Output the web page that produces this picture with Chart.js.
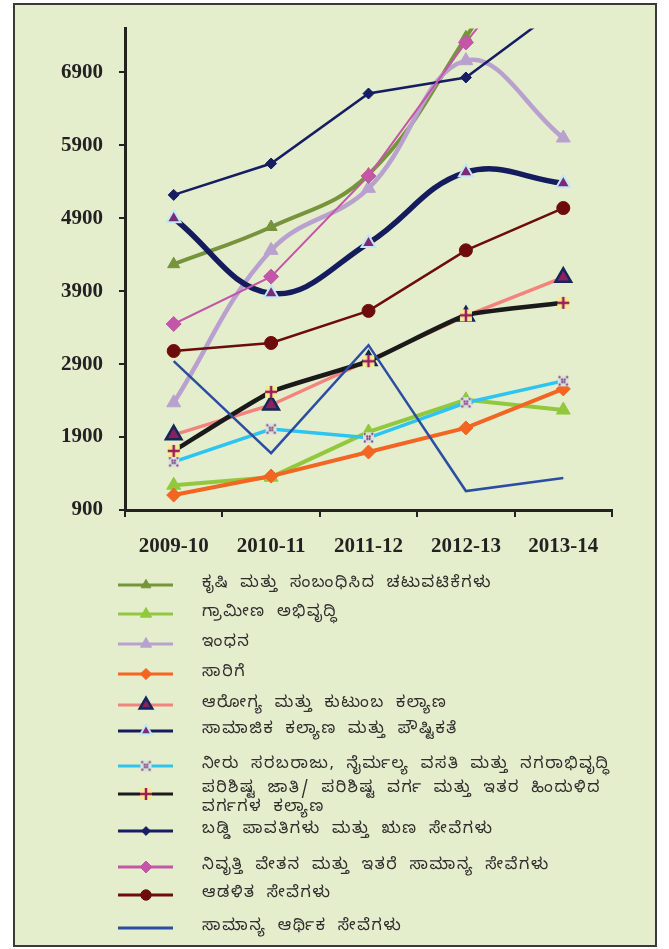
<!DOCTYPE html>
<html lang="kn">
<head>
<meta charset="utf-8">
<title>ವೆಚ್ಚದ ಪ್ರವೃತ್ತಿ</title>
<script src="https://cdn.jsdelivr.net/npm/chart.js@4.4.1/dist/chart.umd.min.js"></script>
<style>
  html, body { margin: 0; padding: 0; background: #fff; }
  canvas { display: block; }
</style>
</head>
<body>
<canvas id="chart" width="669" height="949"></canvas>
<script>
// ---- data ----
const years = ['2009-10', '2010-11', '2011-12', '2012-13', '2013-14'];
const yTicks = [900, 1900, 2900, 3900, 4900, 5900, 6900];

const seriesNames = [
    'ಕೃಷಿ ಮತ್ತು ಸಂಬಂಧಿಸಿದ ಚಟುವಟಿಕೆಗಳು',
    'ಗ್ರಾಮೀಣ ಅಭಿವೃದ್ಧಿ',
    'ಇಂಧನ',
    'ಸಾರಿಗೆ',
    'ಆರೋಗ್ಯ ಮತ್ತು ಕುಟುಂಬ ಕಲ್ಯಾಣ',
    'ಸಾಮಾಜಿಕ ಕಲ್ಯಾಣ ಮತ್ತು ಪೌಷ್ಟಿಕತೆ',
    'ನೀರು ಸರಬರಾಜು, ನೈರ್ಮಲ್ಯ ವಸತಿ ಮತ್ತು ನಗರಾಭಿವೃದ್ಧಿ',
    'ಪರಿಶಿಷ್ಟ ಜಾತಿ/ ಪರಿಶಿಷ್ಟ ವರ್ಗ ಮತ್ತು ಇತರ ಹಿಂದುಳಿದ ವರ್ಗಗಳ ಕಲ್ಯಾಣ',
    'ಬಡ್ಡಿ ಪಾವತಿಗಳು ಮತ್ತು ಋಣ ಸೇವೆಗಳು',
    'ನಿವೃತ್ತಿ ವೇತನ ಮತ್ತು ಇತರೆ ಸಾಮಾನ್ಯ ಸೇವೆಗಳು',
    'ಆಡಳಿತ ಸೇವೆಗಳು',
    'ಸಾಮಾನ್ಯ ಆರ್ಥಿಕ ಸೇವೆಗಳು'
];

const krushi     = [4270, 4780, 5500, 7380, 9600];
const grameena   = [1240, 1350, 1970, 2410, 2270];
const indhana    = [2370, 4460, 5310, 7060, 6000];
const saarige    = [1105, 1365, 1695, 2025, 2560];
const arogya     = [1930, 2340, 2950, 3560, 4090];
const samajika   = [4900, 3870, 4560, 5530, 5380];
const neeru      = [1560, 2010, 1890, 2370, 2670];
const parishishta = [1710, 2520, 2940, 3570, 3740];
const baddi      = [5220, 5650, 6610, 6830, 7820];
const nivrutti   = [3450, 4100, 5480, 7310, 9000];
const adalita    = [3080, 3190, 3630, 4460, 5040];
const samanya    = [2940, 1680, 3160, 1160, 1340];

// ---- special markers (drawn on small canvases) ----
function makeMarker(size, draw) {
    const c = document.createElement('canvas');
    c.width = size;
    c.height = size;
    draw(c.getContext('2d'), size);
    return c;
}

const plusMarker = makeMarker(14, (g, s) => {
    g.fillStyle = '#F4EC93';
    g.fillRect(1, 1, s - 2, s - 2);
    g.strokeStyle = '#9B1D5C';
    g.lineWidth = 2.5;
    g.beginPath();
    g.moveTo(s / 2, 1); g.lineTo(s / 2, s - 1);
    g.moveTo(1, s / 2); g.lineTo(s - 1, s / 2);
    g.stroke();
});

const crossMarker = makeMarker(13, (g, s) => {
    g.fillStyle = '#D9E3D6';
    g.fillRect(1, 1, s - 2, s - 2);
    g.strokeStyle = '#7B3B8E';
    g.lineWidth = 2;
    g.setLineDash([2, 1.5]);
    g.beginPath();
    g.moveTo(2, 2); g.lineTo(s - 2, s - 2);
    g.moveTo(s - 2, 2); g.lineTo(2, s - 2);
    g.stroke();
});

// Styles per series (same order as seriesNames)
const seriesStyles = [
    { data: krushi, color: '#77933C', width: 4, tension: 0.4, style: 'triangle', radius: 7, fill: '#77933C', border: '#77933C', bw: 1 },
    { data: grameena, color: '#92C83E', width: 4, tension: 0, style: 'triangle', radius: 8, fill: '#92C83E', border: '#92C83E', bw: 1 },
    { data: indhana, color: '#B9A1CF', width: 4.5, tension: 0.4, style: 'triangle', radius: 8, fill: '#B9A1CF', border: '#B9A1CF', bw: 1 },
    { data: saarige, color: '#F26522', width: 4, tension: 0, style: 'rectRot', radius: 7, fill: '#F26522', border: '#F26522', bw: 1 },
    { data: arogya, color: '#F4837D', width: 3.5, tension: 0, style: 'triangle', radius: 9, fill: '#8E1F5E', border: '#14275A', bw: 2.5 },
    { data: samajika, color: '#141C5E', width: 5.5, tension: 0.4, style: 'triangle', radius: 8, fill: '#7B2A7A', border: '#C4E6F5', bw: 2 },
    { data: neeru, color: '#2EC4F2', width: 3.5, tension: 0, style: crossMarker, radius: 6, fill: '#D9E3D6', border: '#7B3B8E', bw: 1 },
    { data: parishishta, color: '#1A1A1A', width: 4.5, tension: 0.15, style: plusMarker, radius: 7, fill: '#F4EC93', border: '#9B1D5C', bw: 1 },
    { data: baddi, color: '#161D63', width: 2.5, tension: 0, style: 'rectRot', radius: 5.5, fill: '#161D63', border: '#161D63', bw: 1 },
    { data: nivrutti, color: '#C455A8', width: 2, tension: 0, style: 'rectRot', radius: 7.5, fill: '#C455A8', border: '#C455A8', bw: 1 },
    { data: adalita, color: '#6E0B0B', width: 2.5, tension: 0, style: 'circle', radius: 6.5, fill: '#6E0B0B', border: '#6E0B0B', bw: 1 },
    { data: samanya, color: '#2B4EA2', width: 2.5, tension: 0, style: 'circle', radius: 0, fill: '#2B4EA2', border: '#2B4EA2', bw: 1 }
];

const datasets = seriesStyles.map((s, i) => ({
    label: seriesNames[i],
    data: s.data,
    borderColor: s.color,
    borderWidth: s.width,
    tension: s.tension,
    pointStyle: s.style,
    pointRadius: s.radius,
    pointBackgroundColor: s.fill,
    pointBorderColor: s.border,
    pointBorderWidth: s.bw,
    fill: false,
    // excel draws the last series on top
    order: seriesStyles.length - i
}));

// ---- frame + background ----
const framePlugin = {
    id: 'frame',
    beforeDraw(chart) {
        const ctx = chart.ctx;
        ctx.save();
        ctx.fillStyle = '#E4EECC';
        ctx.fillRect(14, 4, 642, 942);
        ctx.strokeStyle = '#3A3A3A';
        ctx.lineWidth = 2;
        ctx.strokeRect(14, 4, 642, 942);
        ctx.restore();
    }
};

// ---- legend drawn below the plot, line sample + marker ----
const legendRows = [585, 614, 644, 674, 705, 731, 766, 794, 831, 867, 895, 928];
const legendPlugin = {
    id: 'sideLegend',
    afterDraw(chart) {
        const ctx = chart.ctx;
        ctx.save();
        ctx.font = '16px "Noto Sans Kannada", "Noto Sans", sans-serif';
        ctx.letterSpacing = '1.6px';
        ctx.wordSpacing = '5px';
        ctx.textBaseline = 'middle';
        chart.data.datasets.forEach((ds, i) => {
            const y = legendRows[i];
            ctx.strokeStyle = ds.borderColor;
            ctx.lineWidth = 3;
            ctx.beginPath();
            ctx.moveTo(118, y);
            ctx.lineTo(173, y);
            ctx.stroke();
            if (ds.pointRadius > 0) {
                // legend markers are a bit smaller than the plotted ones
                const isImage = typeof ds.pointStyle !== 'string';
                ctx.fillStyle = ds.pointBackgroundColor;
                ctx.strokeStyle = ds.pointBorderColor;
                ctx.lineWidth = ds.pointBorderWidth;
                Chart.helpers.drawPoint(ctx, {
                    pointStyle: ds.pointStyle,
                    radius: isImage ? ds.pointRadius : ds.pointRadius * 0.8,
                    borderWidth: ds.pointBorderWidth,
                    rotation: 0
                }, 146, y);
            }
            // simple word wrap
            ctx.fillStyle = '#2E2E2E';
            const words = ds.label.split(' ');
            const lines = [];
            let cur = '';
            words.forEach(w => {
                const test = cur ? cur + ' ' + w : w;
                if (ctx.measureText(test).width > 410 && cur) {
                    lines.push(cur);
                    cur = w;
                } else {
                    cur = test;
                }
            });
            lines.push(cur);
            const startY = lines.length > 1 ? y - 4 : y;
            lines.forEach((l, k) => ctx.fillText(l, 202, startY + k * 19));
        });
        ctx.restore();
    }
};

const axisFont = { family: '"Liberation Serif", "Times New Roman", serif', size: 21, weight: 'bold' };

new Chart(document.getElementById('chart'), {
    type: 'line',
    data: { labels: years, datasets: datasets },
    options: {
        responsive: false,
        animation: false,
        events: [],
        layout: { padding: { left: 0, right: 57, top: 28, bottom: 379 } },
        plugins: {
            legend: { display: false },
            tooltip: { enabled: false },
            title: { display: false }
        },
        scales: {
            x: {
                offset: true,
                grid: { offset: true, drawOnChartArea: false, drawTicks: true, tickLength: 7, color: '#222', lineWidth: 2 },
                border: { display: true, color: '#222', width: 3 },
                ticks: { font: axisFont, color: '#222', padding: 17, maxRotation: 0 },
                afterFit(scale) { scale.height = 60; }
            },
            y: {
                min: 900,
                max: 7500,
                grid: { drawOnChartArea: false, drawTicks: true, tickLength: 6, color: '#222', lineWidth: 2 },
                border: { display: true, color: '#222', width: 3 },
                ticks: { font: axisFont, color: '#222', padding: 16, callback: v => String(v) },
                afterBuildTicks(scale) { scale.ticks = yTicks.map(v => ({ value: v })); },
                afterFit(scale) { scale.width = 125; }
            }
        }
    },
    plugins: [framePlugin, legendPlugin]
});
</script>
</body>
</html>
